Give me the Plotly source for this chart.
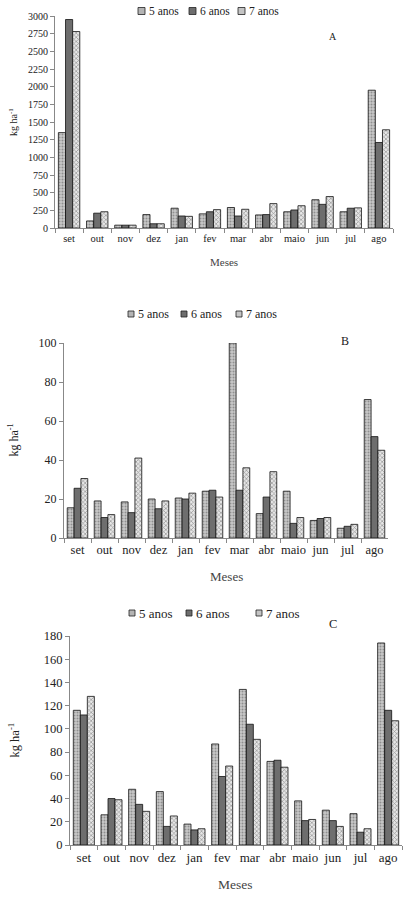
import plotly.graph_objects as go

meses = ["set", "out", "nov", "dez", "jan", "fev", "mar", "abr", "maio", "jun", "jul", "ago"]
series_names = ["5 anos", "6 anos", "7 anos"]

# Painel A
a_5 = [1350, 100, 40, 190, 280, 200, 290, 185, 230, 400, 230, 1950]
a_6 = [2950, 210, 40, 60, 170, 230, 170, 190, 255, 335, 280, 1210]
a_7 = [2780, 230, 40, 60, 165, 260, 265, 345, 315, 445, 285, 1390]

# Painel B
b_5 = [15.5, 19, 18.5, 20, 20.5, 24, 100, 12.5, 24, 9, 5, 71]
b_6 = [25.5, 10.5, 13, 15, 20, 24.5, 24.5, 21, 7.5, 10, 6, 52]
b_7 = [30.5, 12, 41, 19, 23, 21, 36, 34, 10.5, 10.5, 7, 45]

# Painel C
c_5 = [116, 26, 48, 46, 18, 87, 134, 72, 38, 30, 27, 174]
c_6 = [112, 40, 35, 16, 13, 59, 104, 73, 21, 21, 11, 116]
c_7 = [128, 39, 29, 25, 14, 68, 91, 67, 22, 16, 14, 107]

FONT = "Liberation Serif"
W, H = 411, 900


def px(x):
    return x / W


def py(y):
    return 1 - y / H


styles = [
    dict(color="#c8c8c8", pattern=dict(shape=".", fgcolor="#555555", size=3, solidity=0.35)),
    dict(color="#6e6e6e"),
    dict(color="#e6e6e6", pattern=dict(shape="x", fgcolor="#444444", size=3, solidity=0.4)),
]
swatch = ["#b4b4b4", "#6e6e6e", "#c4c4c4"]

# pixel layout of each panel
panels = [
    dict(data=[a_5, a_6, a_7], letter="A", x0=55, x1=393, y0=228, y1=16,
         yr=[0, 3000], dt=250, leg_y=11, leg_sym=[138, 189, 238], sym=7,
         lx=333, ly=36, title_y=262, fs=10, lfs=11.5, gap=0.32),
    dict(data=[b_5, b_6, b_7], letter="B", x0=64, x1=388, y0=538, y1=343,
         yr=[0, 100], dt=20, leg_y=314, leg_sym=[128, 181, 236], sym=6,
         lx=345, ly=341, title_y=576, fs=12, lfs=12, gap=0.28),
    dict(data=[c_5, c_6, c_7], letter="C", x0=70, x1=402, y0=845, y1=636,
         yr=[0, 180], dt=20, leg_y=613, leg_sym=[129, 186, 256], sym=6,
         lx=333, ly=624, title_y=884, fs=12.5, lfs=13, gap=0.24),
]

fig = go.Figure()
layout = dict(width=W, height=H, margin=dict(l=0, r=0, t=0, b=0),
              paper_bgcolor="white", plot_bgcolor="white", barmode="group",
              font=dict(family=FONT, color="#222222"), showlegend=False,
              annotations=[], shapes=[])


def label(text, x, y, size, color="#222222", **kw):
    d = dict(text=text, x=x, y=y, xref="paper", yref="paper", showarrow=False,
             xanchor="center", yanchor="middle", font=dict(size=size, color=color))
    d.update(kw)
    return d


for i, p in enumerate(panels):
    sfx = "" if i == 0 else str(i + 1)
    for name, vals, st in zip(series_names, p["data"], styles):
        fig.add_trace(go.Bar(
            x=meses, y=vals, name=name,
            xaxis="x" + sfx, yaxis="y" + sfx,
            marker=dict(line=dict(color="#111111", width=0.8), **st),
        ))
    xd = [px(p["x0"]), px(p["x1"])]
    yd = [py(p["y0"]), py(p["y1"])]
    layout["xaxis" + sfx] = dict(domain=xd, anchor="y" + sfx, showline=True,
                                 linecolor="#888888", linewidth=1, ticks="outside",
                                 tickson="boundaries", ticklen=4, tickcolor="#888888",
                                 tickangle=0, automargin=False,
                                 tickfont=dict(size=p["fs"] + 0.5, color="#222222"),
                                 showgrid=False)
    layout["yaxis" + sfx] = dict(domain=yd, anchor="x" + sfx, range=p["yr"],
                                 dtick=p["dt"], showline=True, linecolor="#888888",
                                 linewidth=1, ticks="outside", ticklen=4, automargin=False,
                                 tickcolor="#888888", showgrid=False, zeroline=False,
                                 tickfont=dict(size=p["fs"], color="#222222"))
    layout["annotations"] += [
        label(p["letter"], px(p["lx"]), py(p["ly"]), p["fs"]),
        label("Meses", (xd[0] + xd[1]) / 2, py(p["title_y"]), p["fs"] + 1, "#444444"),
        label("kg ha<sup>-1</sup>", px(13), (yd[0] + yd[1]) / 2, p["fs"], textangle=-90),
    ]
    # legend: small swatch + label
    s = p["sym"]
    for name, sx, col in zip(series_names, p["leg_sym"], swatch):
        layout["shapes"].append(dict(
            type="rect", xref="paper", yref="paper",
            x0=px(sx), x1=px(sx + s),
            y0=py(p["leg_y"] + s / 2), y1=py(p["leg_y"] - s / 2),
            fillcolor=col, line=dict(color="#222222", width=0.8)))
        layout["annotations"].append(
            label(name, px(sx + s + 2), py(p["leg_y"]), p["lfs"], xanchor="left"))
    layout["bargap"] = p["gap"]

layout["bargroupgap"] = 0
fig.update_layout(**layout)

# drop the default 8px page margin so the figure fills the window exactly
fig.write_html("out.html", config={"displayModeBar": False},
               post_script="document.body.style.margin='0';")
